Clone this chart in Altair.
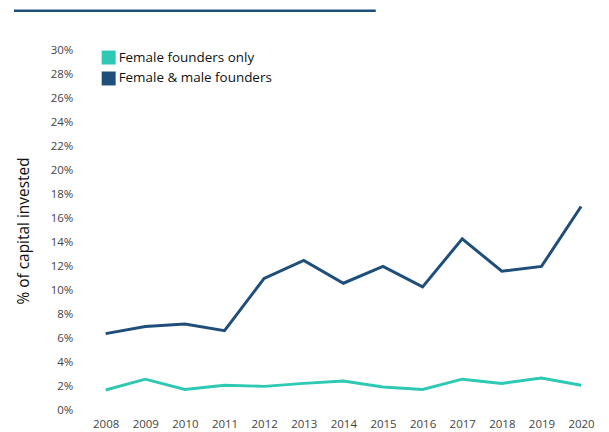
import altair as alt
import pandas as pd

years = [2008, 2009, 2010, 2011, 2012, 2013, 2014, 2015, 2016, 2017, 2018, 2019, 2020]
female_only = [1.7, 2.6, 1.75, 2.1, 2.0, 2.25, 2.45, 1.95, 1.75, 2.6, 2.25, 2.7, 2.1]
female_male = [6.4, 7.0, 7.2, 6.65, 11.0, 12.5, 10.6, 12.0, 10.3, 14.3, 11.6, 12.0, 17.0]
series_names = ["Female founders only", "Female & male founders"]
series_colors = ["#2ec9b5", "#1f4e7a"]
y_ticks = list(range(0, 31, 2))

rows = []
for y, a, b in zip(years, female_only, female_male):
    rows.append({"year": str(y), "value": a / 100, "series": series_names[0]})
    rows.append({"year": str(y), "value": b / 100, "series": series_names[1]})
df = pd.DataFrame(rows)

FONT = "Open Sans"
color_scale = alt.Scale(domain=series_names, range=series_colors)

base = alt.Chart(df)

x_enc = alt.X("year:O", scale=alt.Scale(padding=0),
              axis=alt.Axis(title=None, labelAngle=0, domain=False, ticks=False,
                            labelFontSize=11.5, labelColor="#444", labelPadding=8,
                            labelFont=FONT))
y_enc = alt.Y("value:Q", scale=alt.Scale(domain=[0, 0.30], nice=False),
              axis=alt.Axis(title="% of capital invested", format=".0%",
                            values=[v / 100 for v in y_ticks], grid=False,
                            domain=False, ticks=False, labelFontSize=11.5,
                            labelColor="#444", labelPadding=33, labelFont=FONT,
                            titleFont=FONT, titleFontSize=15.5, titleFontWeight="normal",
                            titleColor="#111", titlePadding=19))

lines = base.mark_line(strokeWidth=3).encode(
    x=x_enc, y=y_enc,
    stroke=alt.Stroke("series:N", scale=color_scale, legend=None),
)

legend_layer = base.mark_square(opacity=0, size=1).encode(
    x=x_enc, y=y_enc,
    fill=alt.Fill("series:N", scale=color_scale,
                  legend=alt.Legend(title=None, orient="none", legendX=-4, legendY=0,
                                    symbolType="square", symbolSize=196,
                                    symbolStrokeWidth=0, symbolOpacity=1,
                                    labelFontSize=13.5, labelFont=FONT,
                                    labelColor="#111", rowPadding=7,
                                    labelOffset=3)),
)

top_rule = alt.Chart(pd.DataFrame({"a": [0]})).mark_rule(
    color="#1f4e7a", strokeWidth=2.5
).encode(x=alt.value(-92), x2=alt.value(271), y=alt.value(-40))

chart = alt.layer(top_rule, lines, legend_layer).resolve_scale(
    stroke="independent", fill="independent"
).properties(
    width=477, height=361,
    autosize=alt.AutoSizeParams(type="none"),
    padding={"left": 98, "top": 42, "right": 20, "bottom": 20},
).configure_view(stroke=None)

chart.save("out.html", embed_options={"renderer": "svg", "actions": False})
